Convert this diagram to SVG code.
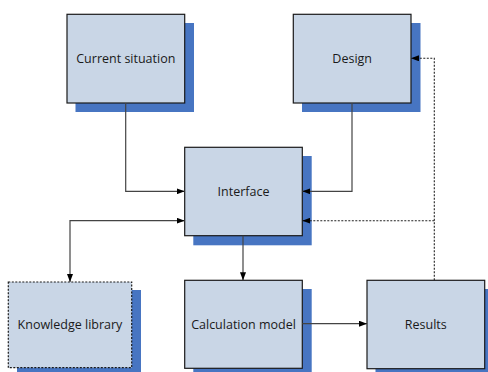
<svg xmlns="http://www.w3.org/2000/svg" width="488" height="372" viewBox="0 0 488 372">
<defs>
<marker id="arr" markerWidth="8" markerHeight="6" refX="8" refY="3" orient="auto" markerUnits="userSpaceOnUse">
<path d="M0,0 L8,3 L0,6 Z" fill="#000"/>
</marker>
<marker id="arrs" markerWidth="8" markerHeight="6" refX="0" refY="3" orient="auto" markerUnits="userSpaceOnUse">
<path d="M8,0 L0,3 L8,6 Z" fill="#000"/>
</marker>
</defs>
<style>
.sh{fill:#4775C2}
.bx{fill:#C9D6E6;stroke:#1a1a1a;stroke-width:1.2}
.dash{stroke-dasharray:2,1.5}
.t{font-family:"Open Sans","Liberation Sans",sans-serif;font-size:12.5px;fill:#1a1a1a;text-anchor:middle;dominant-baseline:central}
.c{fill:none;stroke:#444;stroke-width:1.2}
.cd{fill:none;stroke:#222;stroke-width:1.1;stroke-dasharray:2,1.5}
</style>
<rect width="488" height="372" fill="#fff"/>
<g id="current-situation">
<rect class="sh" x="75.5" y="23" width="118.5" height="89"/>
<rect class="bx" x="67" y="14.3" width="117.7" height="88.7"/>
<text class="t" x="125.8" y="58.5">Current situation</text>
</g>
<g id="design">
<rect class="sh" x="302" y="23" width="118.5" height="89"/>
<rect class="bx" x="293.3" y="14.3" width="117.7" height="88.7"/>
<text class="t" x="352.2" y="58.5">Design</text>
</g>
<g id="interface">
<rect class="sh" x="193.3" y="156" width="118.4" height="89.3"/>
<rect class="bx" x="184.7" y="147.3" width="117.6" height="88.4"/>
<text class="t" x="243.5" y="191.5">Interface</text>
</g>
<g id="knowledge-library">
<rect class="sh" x="17" y="290" width="124" height="82"/>
<rect class="bx dash" x="8.3" y="282" width="123.4" height="85.7"/>
<text class="t" x="70" y="324.5">Knowledge library</text>
</g>
<g id="calculation-model">
<rect class="sh" x="193.3" y="289" width="118.4" height="83"/>
<rect class="bx" x="184.7" y="280.3" width="117.6" height="88"/>
<text class="t" x="243.5" y="324.5">Calculation model</text>
</g>
<g id="results">
<rect class="sh" x="375.5" y="289" width="120" height="83"/>
<rect class="bx" x="367" y="280.3" width="117.7" height="88.4"/>
<text class="t" x="425.8" y="324.5">Results</text>
</g>
<g id="connectors">
<path class="c" d="M125.7,103 V191.3 H184.7" marker-end="url(#arr)"/>
<path class="c" d="M352,103 V191.3 H302.3" marker-end="url(#arr)"/>
<path class="c" d="M184.7,220.7 H70 V282" marker-start="url(#arrs)" marker-end="url(#arr)"/>
<path class="c" d="M243,235.7 V280.3" marker-end="url(#arr)"/>
<path class="c" d="M302.3,323.7 H367" marker-end="url(#arr)"/>
<path class="cd" d="M434.3,280.3 V58.3 H411" marker-end="url(#arr)"/>
<path class="cd" d="M434.3,220.7 H302.3" marker-end="url(#arr)"/>
</g>
</svg>
